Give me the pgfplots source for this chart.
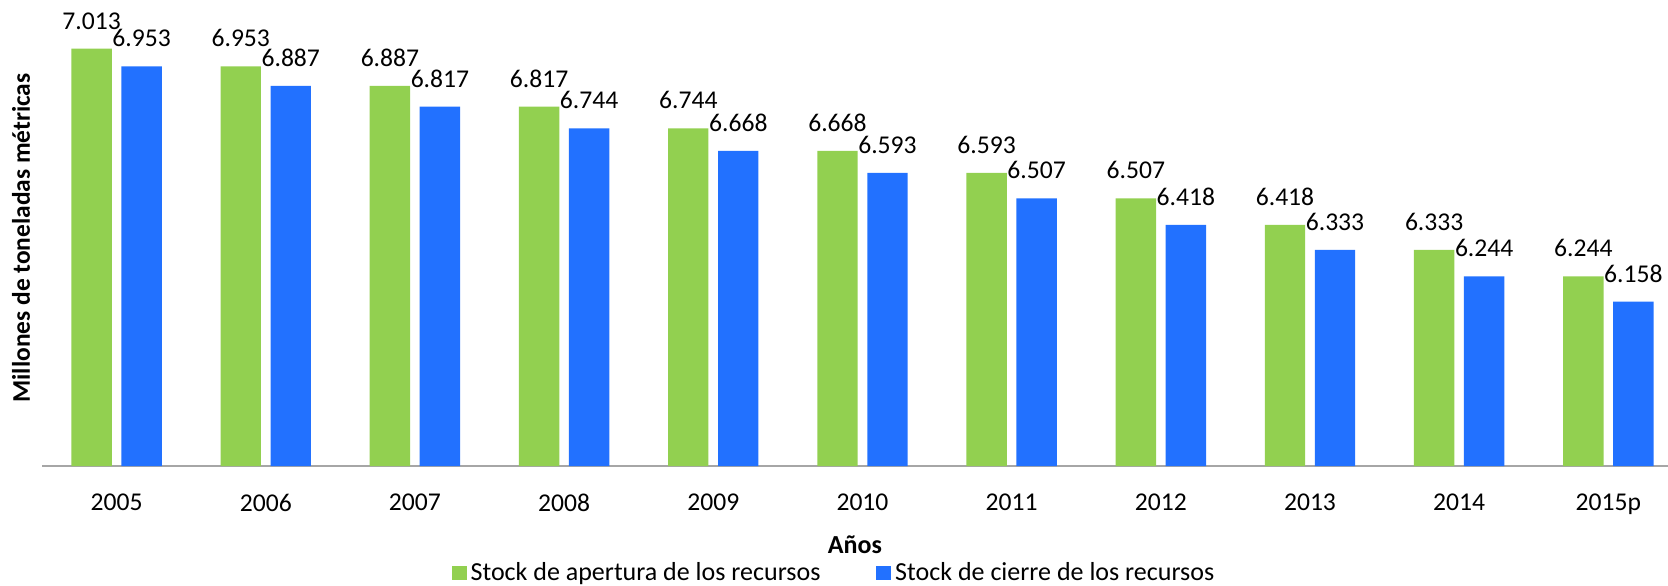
\documentclass[border=0pt]{standalone}
\usepackage{pgfplots}
\pgfplotsset{compat=1.18}
\usepackage{fontspec}
\setmainfont{Carlito}
\definecolor{verde}{HTML}{92D050}
\definecolor{azul}{HTML}{2271FF}
\definecolor{eje}{HTML}{A6A6A6}
\begin{document}
\begin{tikzpicture}
\begin{axis}[
    scale only axis,
    width=813pt, height=232.5pt,
    xmin=-0.5, xmax=10.4,
    ymin=5.603, ymax=7.174,
    axis x line*=bottom,
    axis y line=none,
    x axis line style={eje, line width=1pt, -},
    xtick={0,...,10},
    xticklabels={2005,2006,2007,2008,2009,2010,2011,2012,2013,2014,2015p},
    major tick length=0pt,
    xticklabel style={font=\fontsize{12.8}{14}\selectfont, yshift=-10.5pt},
    ytick=\empty,
    xlabel={\textbf{Años}},
    xlabel style={font=\fontsize{13}{15}\selectfont, at={(axis description cs:0.5,0)}, anchor=center, yshift=-39.5pt},
    ybar=0pt, bar width=20.2pt,
    nodes near coords,
    nodes near coords style={font=\fontsize{12.8}{14}\selectfont, inner sep=2pt, yshift=7.5pt, /pgf/number format/.cd, fixed, precision=3, fixed zerofill, assume math mode=true},
    legend columns=2,
    legend style={draw=none, at={(axis description cs:0.4877,0)}, anchor=center, yshift=-53.5pt, inner sep=1pt,
        font=\fontsize{13}{15}\selectfont, /tikz/every even column/.append style={column sep=26pt}},
    legend image code/.code={\fill[#1] (0pt,-3.7pt) rectangle (7.4pt,3.7pt);},
    clip=false,
]
\addplot[fill=verde, draw=none, bar shift=-12.5pt] coordinates {
    (0,7.013) (1,6.953) (2,6.887) (3,6.817) (4,6.744) (5,6.668)
    (6,6.593) (7,6.507) (8,6.418) (9,6.333) (10,6.244)};
\addlegendentry{Stock de apertura de los recursos}
\addplot[fill=azul, draw=none, bar shift=12.5pt] coordinates {
    (0,6.953) (1,6.887) (2,6.817) (3,6.744) (4,6.668) (5,6.593)
    (6,6.507) (7,6.418) (8,6.333) (9,6.244) (10,6.158)};
\addlegendentry{Stock de cierre de los recursos}
\end{axis}
\node[rotate=90, font=\bfseries\fontsize{12.7}{14}\selectfont] at (-10.5pt,114pt) {Millones de toneladas métricas};
\pgfresetboundingbox
\path[use as bounding box] (-21pt,-59.5pt) rectangle (813pt,233pt);
\end{tikzpicture}
\end{document}
